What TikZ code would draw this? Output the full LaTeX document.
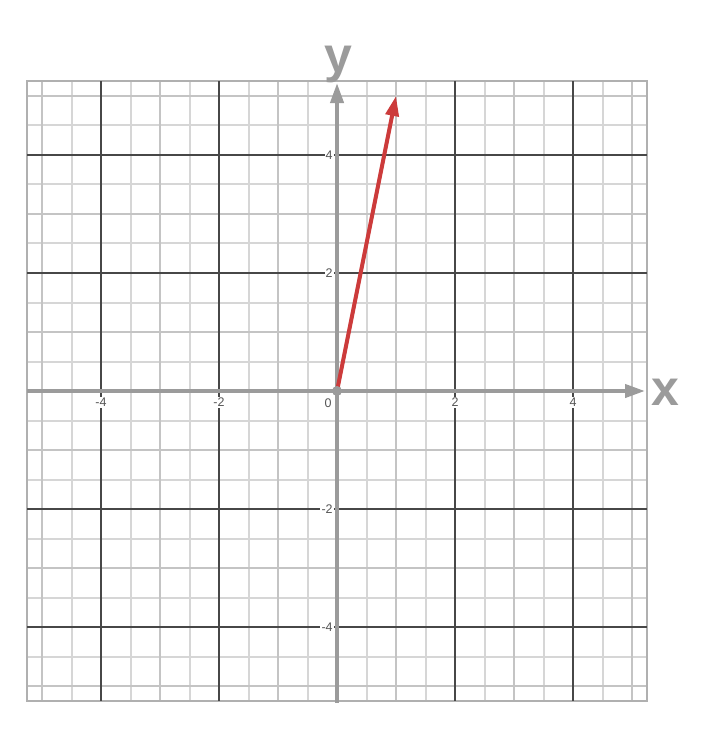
\documentclass[tikz,border=0pt]{standalone}
\usepackage{fontspec}
\setmainfont{Liberation Sans}
\usetikzlibrary{arrows.meta}
\definecolor{halfgrid}{HTML}{D6D6D6}
\definecolor{intgrid}{HTML}{C4C4C4}
\definecolor{bordergrid}{HTML}{B0B0B0}
\definecolor{majorgrid}{HTML}{474747}
\definecolor{axisgray}{HTML}{9B9B9B}
\definecolor{labelgray}{HTML}{555555}
\definecolor{vecred}{HTML}{CC3B3B}
\tikzset{
  halfline/.style={draw=halfgrid,line width=2pt},
  intline/.style={draw=intgrid,line width=1.6pt},
  borderline/.style={draw=bordergrid,line width=1.6pt},
  majorline/.style={draw=majorgrid,line width=1.2pt},
  axisline/.style={draw=axisgray,line width=4pt,-{Triangle[length=20pt,width=13pt]}},
  ticklabel/.style={fill=white,inner sep=1.2pt,text=labelgray,font=\fontsize{12.5pt}{12.5pt}\selectfont},
  axislabel/.style={text=axisgray,font=\bfseries\fontsize{50pt}{50pt}\selectfont,inner sep=0pt},
  vecline/.style={draw=vecred,line width=4pt,-{Triangle[length=20pt,width=13pt]}},
}
\begin{document}
\begin{tikzpicture}[x=59pt,y=59pt]
\useasboundingbox (-5.712,-6.169) rectangle (6.610,6.627);
% half-unit grid lines
\foreach \v in {-4.5,-3.5,...,4.5}{
  \draw[halfline] (\v,-5.25) -- (\v,5.25);
  \draw[halfline] (-5.25,\v) -- (5.25,\v);
}
% integer grid lines
\foreach \v in {-5,-3,-1,1,3,5}{
  \draw[intline] (\v,-5.25) -- (\v,5.25);
  \draw[intline] (-5.25,\v) -- (5.25,\v);
}
\draw[borderline] (-5.25,-5.25) rectangle (5.25,5.25);
% major grid lines
\foreach \v in {-4,-2,2,4}{
  \draw[majorline] (\v,-5.25) -- (\v,5.25);
  \draw[majorline] (-5.25,\v) -- (5.25,\v);
}
% tick labels
\foreach \v in {-4,-2,2,4}{
  \node[ticklabel] (xl\v) at (\v,-0.19) {\v};
  \node[ticklabel,anchor=east] (yl\v) at (-0.05,\v) {\v};
}
\node[ticklabel] (zero) at (-0.15,-0.2) {0};
% axes
\coordinate (O) at (0,0);
\coordinate (xs) at (-5.25,0);
\coordinate (xe) at (5.22,0);
\coordinate (ys) at (0,-5.28);
\coordinate (ye) at (0,5.22);
\draw[axisline] (xs) -- (xe);
\draw[axisline] (ys) -- (ye);
\node[axislabel,anchor=base] (xlab) at (5.56,-0.24) {x};
\node[axislabel,anchor=base] (ylab) at (0.02,5.40) {y};
% vector
\coordinate (V) at (1,5);
\draw[vecline] (O) -- (V);
\fill[axisgray] (O) circle (5pt);
\end{tikzpicture}
\end{document}
